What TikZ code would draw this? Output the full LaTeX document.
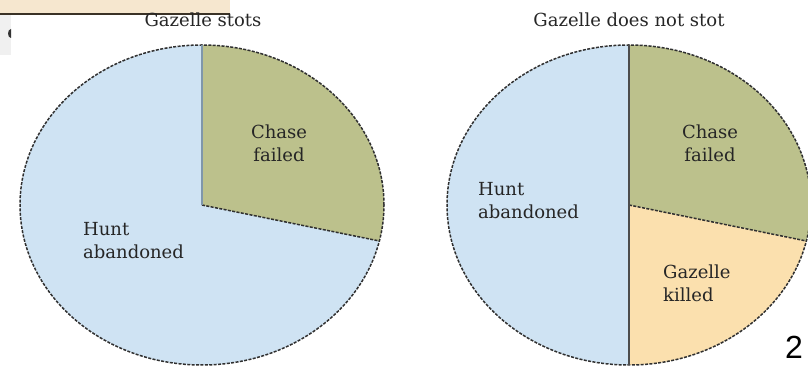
\documentclass[tikz,border=0pt]{standalone}
\usepackage{fontspec}
\setmainfont{DejaVu Serif}
\newfontfamily\digitfont{Liberation Sans}
\definecolor{huntblue}{HTML}{CFE3F3}
\definecolor{chasegreen}{HTML}{BCC18C}
\definecolor{killorange}{HTML}{FBE0AE}
\definecolor{slidebeige}{HTML}{F6E7CF}
\definecolor{slideline}{HTML}{3A3226}
\definecolor{rimgray}{HTML}{303030}
\definecolor{splitblue}{HTML}{7F96AB}

\begin{document}
\begin{tikzpicture}[x=1pt, y=1pt,
	rim/.style={draw=rimgray, line width=1.5pt, dash pattern=on 3pt off 1.4pt},
	slicetext/.style={inner sep=0pt, font=\fontsize{18}{23}\selectfont, text=black!85},
	piesize/.style={x radius=182pt, y radius=160pt}]
	\useasboundingbox (0,0) rectangle (808,366);

	% cropped slide edge, top left
	\fill[slidebeige] (0,366) rectangle (230,353);
	\draw[slideline, line width=2pt] (0,352) -- (230,352);
	\fill[black!6] (0,351) rectangle (11,311);
	\fill[black!80] (11,337) arc[start angle=90, end angle=270, x radius=3pt, y radius=4.5pt] -- cycle;

	\coordinate (c1) at (202,161);
	\coordinate (c2) at (629,161);

	% left pie
	\fill[huntblue] (c1) ellipse [piesize];
	\fill[chasegreen] (c1) -- ++(0,160) arc[start angle=90, end angle=-13, piesize] -- cycle;
	\draw[rim] (c1) ellipse [piesize];
	\draw[rim] (c1) -- +(-13:182pt and 160pt);
	\draw[splitblue, line width=1.2pt] (c1) -- +(0,160);

	% right pie
	\fill[huntblue] (c2) ellipse [piesize];
	\fill[chasegreen] (c2) -- ++(0,160) arc[start angle=90, end angle=-13, piesize] -- cycle;
	\fill[killorange] (c2) -- +(-13:182pt and 160pt) arc[start angle=-13, end angle=-90, piesize] -- cycle;
	\draw[rim] (c2) ellipse [piesize];
	\draw[rim] (c2) -- +(-13:182pt and 160pt);
	\draw[black!70, line width=2pt] (c2) ++(0,160) -- ++(0,-320);

	% titles
	\node[slicetext, anchor=north] (stots)   at (203,353) {Gazelle stots};
	\node[slicetext, anchor=north] (nostots) at (629,353) {Gazelle does not stot};

	% slice labels
	\node[slicetext, anchor=north, align=center]     (chase1) at (279,241) {Chase\\failed};
	\node[slicetext, anchor=north west, align=left] (hunt1)  at (83,144)  {Hunt\\abandoned};
	\node[slicetext, anchor=north, align=center]     (chase2) at (710,241) {Chase\\failed};
	\node[slicetext, anchor=north west, align=left] (hunt2)  at (478,184) {Hunt\\abandoned};
	\node[slicetext, anchor=north west, align=left] (killed) at (663,101) {Gazelle\\killed};

	\node[inner sep=0pt, anchor=base east, font=\digitfont\fontsize{32}{38}\selectfont] (page) at (803,7) {2};
\end{tikzpicture}
\end{document}
